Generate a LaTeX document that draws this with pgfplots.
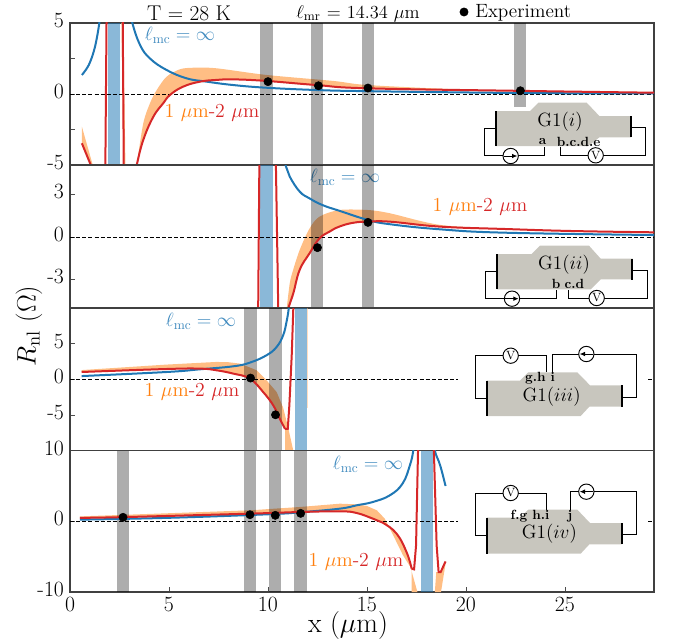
\RequirePackage{fix-cm}
\documentclass[border=0pt]{standalone}
\usepackage{pgfplots}
\pgfplotsset{compat=1.18}
\usetikzlibrary{arrows.meta}
\definecolor{cblue}{RGB}{31,119,180}
\definecolor{cred}{RGB}{214,39,40}
\definecolor{corange}{RGB}{255,127,14}
\definecolor{cband}{RGB}{255,190,132}
\definecolor{cdev}{RGB}{200,198,190}
\newcommand\fs[1]{\fontsize{#1}{#1}\selectfont}
\pgfplotsset{
  panel/.style={scale only axis, width=438pt, anchor=south west,
    xmin=0, xmax=29.5, axis line style={black!75, line width=0.9pt},
    tick style={black!70, line width=0.5pt}, major tick length=3.5pt,
    tick align=inside, xtick pos=bottom, ytick pos=left,
    tick label style={font=\fs{16.3}}, clip=true,
    yticklabel style={xshift=-1pt},
    typeset ticklabels with strut=false},
  bl/.style={cblue, line width=1.5pt, smooth, tension=0.7, no marks},
  rd/.style={cred, line width=1.5pt, smooth, tension=0.7, no marks},
  rds/.style={cred, line width=1.5pt, sharp plot, no marks},
  org/.style={fill=cband, draw=none, no marks, smooth, tension=0.5},
  orgs/.style={fill=cband, draw=none, no marks, sharp plot},
  gr/.style={fill=black, fill opacity=0.32, draw=none, no marks, sharp plot},
  bb/.style={fill=cblue, fill opacity=0.52, draw=none, no marks, sharp plot},
  zer/.style={black, line width=0.55pt, dash pattern=on 3pt off 1.6pt, no marks, sharp plot},
  dot/.style={only marks, mark=*, mark size=3.1pt, mark options={fill=black, draw=black}},
}
\newcommand\band[5]{\addplot[#1] coordinates {(#2,#4)(#3,#4)(#3,#5)(#2,#5)} -- cycle;}
\begin{document}
\begin{tikzpicture}
\begin{scope}[x=0.75pt,y=-0.75pt]
\useasboundingbox (0,0) rectangle (680,639);
% header
\node[font=\fs{16}] at (189,13) {T = 28 K};
\node[font=\fs{13.8}] at (358,13.5) {$\ell_{\mathrm{mr}}$ = 14.34 $\mu$m};
\node[font=\fs{14.4},anchor=west,inner sep=0pt] at (475,13.3) {Experiment};
% axis titles
\node[font=\fs{20},rotate=90] at (29,326) {$R_{\mathrm{nl}}$ ($\Omega$)};
\node[font=\fs{21},anchor=center] at (348,625) {x ($\mu$m)};
% panel labels
\node[font=\fs{14.4},text=cblue!85] at (180,35) {$\ell_{\mathrm{mc}}=\infty$};
\node[font=\fs{14.4},text=cblue!85] at (345,177) {$\ell_{\mathrm{mc}}=\infty$};
\node[font=\fs{14.4},text=cblue!85] at (201,321) {$\ell_{\mathrm{mc}}=\infty$};
\node[font=\fs{14.4},text=cblue!85] at (368,464) {$\ell_{\mathrm{mc}}=\infty$};
\node[font=\fs{14.9}] at (212,113) {\textcolor{corange}{1 $\mu$m}\textcolor{cred}{-2 $\mu$m}};
\node[font=\fs{14.9}] at (480,207) {\textcolor{corange}{1 $\mu$m}\textcolor{cred}{-2 $\mu$m}};
\node[font=\fs{14.9}] at (192,392) {\textcolor{corange}{1 $\mu$m}\textcolor{cred}{-2 $\mu$m}};
\node[font=\fs{14.9}] at (356,562) {\textcolor{corange}{1 $\mu$m}\textcolor{cred}{-2 $\mu$m}};
\end{scope}

% ---------- Panel 1
\begin{axis}[panel, at={(52.5pt,-123.75pt)}, height=106.5pt,
  ymin=-5, ymax=5, ytick={-5,-2.5,0,2.5,5}, yticklabels={-5,,0,,5}, xtick=\empty]
\addplot[orgs] coordinates {(.6,-2.3)(1.15,-5)(1.05,-5)(.6,-3.47)} -- cycle;
\addplot[orgs] coordinates {(2.69,5)(2.8,-5)(2.7,-5)(2.6,5)} -- cycle;
\addplot[org] coordinates {(3.37,-5)(3.7,-2.07)(4.04,-.65)(4.38,.28)(4.88,1.22)(5.55,1.74)(6.23,1.85)(7.4,1.81)(9.93,1.34)(13.3,.92)(15.05,.63)(20,.3)(22.8,.23)(29.5,.1)(29.5,.09)(22.8,.22)(15.05,.4)(12.46,.63)(9.93,.92)(8.25,1.03)(7.4,.99)(6.57,.87)(5.7,.51)(5.05,-.07)(4.71,-.65)(4.21,-1.6)(3.7,-3.24)(3.37,-5)};
\band{gr}{9.6}{10.25}{-5}{5}
\band{gr}{12.17}{12.78}{-5}{5}
\band{gr}{14.75}{15.35}{-5}{5}
\band{gr}{22.42}{23.03}{-.92}{5}
\band{bb}{1.92}{2.52}{-5}{5}
\addplot[zer] coordinates {(0,0)(29.5,0)};
\addplot[bl] coordinates {(.6,1.34)(.8,1.7)(1.0,2.2)(1.2,3)(1.35,3.9)(1.48,5)(1.56,6)};
\addplot[bl] coordinates {(3.05,6)(3.15,5)(3.54,3.45)(4.04,2.5)(4.88,1.69)(5.9,1.1)(6.9,.87)(8.25,.63)(9.93,.44)(12.46,.28)(15,.2)(22.8,.07)(29.5,.04)};
\addplot[rds] coordinates {(.6,-3.47)(1.05,-5)(1.2,-5.5)};
\addplot[rds] coordinates {(1.78,-6)(1.85,6)};
\addplot[rds] coordinates {(2.66,6)(2.72,-6)};
\addplot[rd] coordinates {(3.3,-5.5)(3.37,-5)(3.7,-3.24)(4.21,-1.6)(4.71,-.65)(5.05,-.07)(5.7,.51)(6.57,.87)(7.4,.99)(8.25,1.03)(9.93,.92)(12.46,.63)(15.05,.4)(22.8,.22)(29.5,.09)};
\addplot[dot] coordinates {(10,.87)(12.55,.58)(15.05,.42)(22.75,.23)};
\end{axis}

% ---------- Panel 2
\begin{axis}[panel, at={(52.5pt,-231pt)}, height=107.25pt,
  ymin=-5, ymax=5.07, ytick={-3,0,3}, yticklabels={-3,0,3}, xtick=\empty]
\addplot[org] coordinates {(10.95,-5)(11.1,-3.26)(11.27,-2.32)(11.6,-.92)(12.1,.6)(12.6,1.43)(13.6,1.9)(15.05,1.9)(16.16,1.67)(18.7,.85)(22.05,.57)(25.4,.42)(29.5,.33)(25.4,.42)(22.05,.56)(18.7,.73)(16.16,1.08)(15.05,1.08)(14.3,1.0)(13.6,.73)(13.1,.37)(12.6,-.1)(12.1,-1.15)(11.6,-2.32)(11.28,-3.96)(11.03,-5)};
\band{gr}{12.17}{12.78}{-5}{5.07}
\band{gr}{14.75}{15.35}{-5}{5.07}
\band{bb}{9.6}{10.25}{-5}{5.07}
\addplot[zer] coordinates {(0,0)(29.5,0)};
\addplot[bl] coordinates {(10.8,6)(10.9,5)(11.1,4.25)(11.6,3.2)(12.1,2.72)(12.75,2.25)(13.64,1.83)(15.05,1.2)(16.16,.9)(18.7,.54)(22.05,.3)(29.5,.14)};
\addplot[rds] coordinates {(9.5,-6)(9.57,6)};
\addplot[rds] coordinates {(10.39,6)(10.53,-6)};
\addplot[rd] coordinates {(10.95,-5.6)(11.03,-5)(11.28,-3.96)(11.6,-2.32)(12.1,-1.15)(12.6,-.1)(13.1,.37)(13.6,.73)(14.3,1.0)(15.05,1.08)(16.16,1.08)(18.7,.73)(22.05,.56)(25.4,.42)(29.5,.33)};
\addplot[dot] coordinates {(12.5,-.75)(15.05,1.03)};
\end{axis}

% ---------- Panel 3
\begin{axis}[panel, at={(52.5pt,-338pt)}, height=107pt,
  ymin=-10, ymax=10, ytick={-5,0,5}, yticklabels={-5,0,5}, xtick=\empty]
\addplot[orgs] coordinates {(.59,1.3)(4.88,2.07)(7.4,2.44)(8.0,2.4)(8.6,2.2)(9.43,1.27)(9.93,-.14)(10.44,-1.79)(10.77,-4)(11.03,-6.9)(11.28,-10)(10.87,-10)(10.86,-6.94)(10.6,-5.53)(10.27,-3.66)(9.76,-1.79)(9.09,.1)(8.25,.8)(7.4,1.27)(6.57,1.5)(4.88,1.45)(.59,1.03)} -- cycle;
\addplot[orgs, fill opacity=.5] coordinates {(11.95,10)(12.02,10)(12.02,-4)(11.95,-4)} -- cycle;
\band{gr}{8.79}{9.43}{-10}{10}
\band{gr}{10.05}{10.69}{-10}{10}
\band{bb}{11.36}{11.95}{-10}{10}
\addplot[zer] coordinates {(0,0)(19.6,0)};
\addplot[zer] coordinates {(29.2,0)(29.5,0)};
\addplot[bl] coordinates {(.59,.46)(4.88,1.03)(6.57,1.41)(8.25,1.83)(9.09,2.35)(9.93,3.38)(10.44,4.55)(10.77,6.2)(10.94,8.1)(11.05,9.96)(11.12,12)};
\addplot[rd] coordinates {(.59,1.03)(4.88,1.45)(6.57,1.5)(7.4,1.27)(8.25,.8)(9.09,.1)(9.76,-1.79)(10.27,-3.66)(10.6,-5.53)(10.86,-6.94)};
\addplot[rds] coordinates {(10.86,-6.94)(11,-6.94)(11.08,-3.66)(11.2,3.38)(11.28,9.96)(11.3,12)};
\addplot[dot] coordinates {(9.12,.18)(10.38,-4.97)};
\end{axis}

% ---------- Panel 4
\begin{axis}[panel, at={(52.5pt,-444pt)}, height=106pt,
  ymin=-10, ymax=10, ytick={-10,0,10}, yticklabels={-10,0,10},
  xtick={0,5,10,15,20,25}, xticklabels={0,5,10,15,20,25}]
\addplot[orgs] coordinates {(.5,.7)(9.09,1.56)(11.6,2.03)(13.64,2.5)(14.5,2.4)(15,2.17)(15.5,1.56)(15.9,.38)(16.33,-2)(16.82,-4.8)(17.2,-6.5)(17.55,-10)(17.26,-10)(17.26,-6.7)(17,-4.35)(16.5,-1.75)(15.8,-.19)(15.3,.38)(14.48,1.18)(13.64,1.42)(11.6,1.32)(9.09,1.09)(2.7,.6)(.5,.5)} -- cycle;
\addplot[orgs] coordinates {(18.43,-10)(18.74,-10)(18.97,-6)(18.97,-5.67)(18.72,-7.2)(18.5,-7.2)} -- cycle;
\band{gr}{2.36}{2.98}{-10}{10}
\band{gr}{8.77}{9.41}{-10}{10}
\band{gr}{10.05}{10.67}{-10}{10}
\band{gr}{11.31}{11.95}{-10}{10}
\band{bb}{17.73}{18.35}{-10}{10}
\addplot[zer] coordinates {(0,0)(19.6,0)};
\addplot[zer] coordinates {(29.2,0)(29.5,0)};
\addplot[bl] coordinates {(.5,.24)(5,.5)(10,1)(11.7,1.3)(13.64,1.8)(14.48,2.27)(15.3,2.74)(16.16,3.69)(16.8,5.35)(17.17,7.94)(17.34,10)(17.42,12)};
\addplot[bl] coordinates {(18.38,12)(18.43,10)(18.7,7.9)(18.97,5)};
\addplot[rd] coordinates {(.5,.5)(2.7,.6)(9.09,1.09)(11.6,1.32)(13.64,1.42)(14.48,1.18)(15.3,.38)(15.8,-.19)(16.5,-1.75)(17,-4.35)(17.26,-6.7)};
\addplot[rds] coordinates {(17.26,-6.7)(17.38,-6.8)(17.48,-3.4)(17.58,10)(17.6,12)};
\addplot[rds] coordinates {(18.36,12)(18.38,10)(18.52,-3.4)(18.62,-7.2)(18.72,-7.2)(18.97,-5.67)};
\addplot[dot] coordinates {(2.68,.57)(9.09,.94)(10.37,.85)(11.65,1.13)};
\end{axis}

% ---------- legend marker in header
\begin{axis}[at={(0pt,-479.25pt)}, anchor=south west, scale only axis, width=510pt, height=479.25pt,
  xmin=0, xmax=680, ymin=0, ymax=639, hide axis, clip=false]
\addplot[dot] coordinates {(464,627)};
\end{axis}

% ---------- device insets (zoom-units: 3 per pixel)
\begin{scope}[x=0.25pt,y=-0.25pt,shift={(1020,0)},line width=0.7pt]
\fill[cdev] (467,333)--(570,333)--(595,308)--(740,308)--(778,348)--(873,348)--(873,412)--(778,412)--(745,438)--(467,438)--cycle;
\draw[line width=1.5pt] (467,333)--(467,438) (873,348)--(873,412);
\draw (467,385)--(433,385)--(433,466)--(614,466)--(614,440);
\draw (662,440)--(662,466)--(917,466)--(917,382)--(873,382);
\draw[fill=white] (512,468) circle[radius=23];
\draw[-{Latex[length=4pt,width=3.5pt]}] (492,468)--(532,468);
\node[draw,fill=white,circle,inner sep=0pt,minimum size=11.5pt,font=\fs{9}] at (767,466) {V};
\node[font=\fs{14.4}] at (660,365) {G1($i$)};
\node[font=\fs{10}\bfseries] at (608,425) {a};
\node[font=\fs{10}\bfseries] at (716,425) {b.c.d.e};
\end{scope}
\begin{scope}[x=0.25pt,y=-0.25pt,shift={(1020,480)},line width=0.7pt]
\fill[cdev] (470,282)--(575,282)--(600,257)--(747,257)--(782,296)--(877,296)--(877,358)--(782,358)--(752,388)--(470,388)--cycle;
\draw[line width=1.5pt] (470,282)--(470,388) (877,296)--(877,360);
\draw (470,333)--(437,333)--(437,414)--(650,414)--(650,390);
\draw (685,390)--(685,414)--(921,414)--(921,330)--(877,330);
\draw[fill=white] (516,416) circle[radius=23];
\draw[-{Latex[length=4pt,width=3.5pt]}] (496,416)--(536,416);
\node[draw,fill=white,circle,inner sep=0pt,minimum size=11.5pt,font=\fs{9}] at (770,414) {V};
\node[font=\fs{14.4}] at (672,315) {G1($ii$)};
\node[font=\fs{10}\bfseries] at (648,372) {b};
\node[font=\fs{10}\bfseries] at (703,372) {c.d};
\end{scope}
\begin{scope}[x=0.25pt,y=-0.25pt,shift={(1020,915)},line width=0.7pt]
\fill[cdev] (440,227)--(540,227)--(565,202)--(712,202)--(750,241)--(845,241)--(845,305)--(748,305)--(722,333)--(440,333)--cycle;
\draw[line width=1.5pt] (440,227)--(440,333) (846,241)--(846,307);
\draw (440,281)--(406,281)--(406,152)--(618,152)--(618,202);
\draw (636,202)--(636,147)--(889,147)--(889,276)--(846,276);
\draw[fill=white] (739,147) circle[radius=23];
\draw[-{Latex[length=4pt,width=3.5pt]}] (759,147)--(719,147);
\node[draw,fill=white,circle,inner sep=0pt,minimum size=11.5pt,font=\fs{9}] at (512,152) {V};
\node[font=\fs{14.4}] at (635,275) {G1($iii$)};
\node[font=\fs{10}\bfseries] at (600,220) {g.h i};
\end{scope}
\begin{scope}[x=0.25pt,y=-0.25pt,shift={(1020,1335)},line width=0.7pt]
\fill[cdev] (440,218)--(540,218)--(565,194)--(712,194)--(750,234)--(845,234)--(845,298)--(748,298)--(722,326)--(440,326)--cycle;
\draw[line width=1.5pt] (440,218)--(440,326) (846,234)--(846,298);
\draw (440,272)--(406,272)--(406,144)--(618,144)--(618,194);
\draw (690,194)--(690,140)--(889,140)--(889,268)--(846,268);
\draw[fill=white] (739,140) circle[radius=23];
\draw[-{Latex[length=4pt,width=3.5pt]}] (759,140)--(719,140);
\node[draw,fill=white,circle,inner sep=0pt,minimum size=11.5pt,font=\fs{9}] at (512,144) {V};
\node[font=\fs{14.4}] at (628,265) {G1($iv$)};
\node[font=\fs{10}\bfseries] at (570,214) {f.g h.i};
\node[font=\fs{10}\bfseries] at (690,214) {j};
\end{scope}
\end{tikzpicture}
\end{document}
